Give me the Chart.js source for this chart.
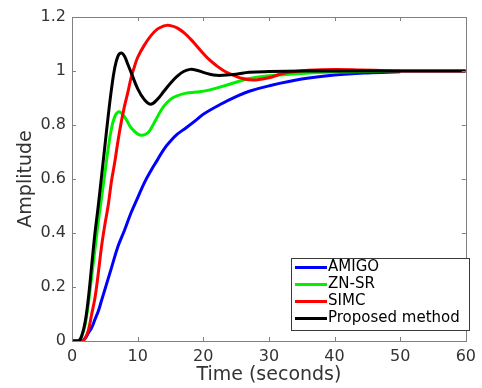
<!DOCTYPE html>
<html>
<head>
<meta charset="utf-8">
<script src="https://cdn.jsdelivr.net/npm/chart.js@4/dist/chart.umd.min.js"></script>
<style>
  html, body { margin: 0; padding: 0; background: #fff; }
  #wrap { width: 482px; height: 388px; }
</style>
</head>
<body>
<div id="wrap"><canvas id="grafica" width="482" height="388"></canvas></div>
<script>
// ejes
const xTicks = [0, 10, 20, 30, 40, 50, 60];
const yTicks = [0, 0.2, 0.4, 0.6, 0.8, 1, 1.2];
const yTickLabels = ['0', '0.2', '0.4', '0.6', '0.8', '1', '1.2'];

// AMIGO (azul)
const tAmigo = [0, 1.5, 2, 2.5, 3, 3.5, 4, 4.5, 5, 6, 7, 8, 9, 10, 11, 12, 13, 14, 15, 16, 17.4, 19, 20, 22.5, 25, 27, 30, 35, 40, 45, 50];
const yAmigo = [0, 0, 0.01, 0.03, 0.05, 0.08, 0.11, 0.15, 0.19, 0.27, 0.35, 0.41, 0.475, 0.53, 0.585, 0.63, 0.67, 0.71, 0.74, 0.765, 0.79, 0.82, 0.84, 0.875, 0.905, 0.925, 0.945, 0.97, 0.985, 0.993, 0.997];

// ZN-SR (verde)
const tZnsr = [0, 1, 1.5, 2, 2.5, 3, 3.5, 4, 4.5, 5, 5.5, 6, 6.5, 7, 7.5, 8, 8.5, 9, 10, 10.7, 11.5, 12, 13, 14, 15, 16, 17.4, 19, 21, 24, 27, 30, 35, 40, 45, 50];
const yZnsr = [0, 0, 0.02, 0.06, 0.14, 0.24, 0.34, 0.44, 0.53, 0.62, 0.71, 0.785, 0.83, 0.848, 0.845, 0.83, 0.81, 0.79, 0.767, 0.762, 0.77, 0.785, 0.83, 0.87, 0.895, 0.908, 0.918, 0.922, 0.93, 0.951, 0.972, 0.982, 0.991, 0.996, 0.998, 1.0];

// SIMC (rojo)
const tSimc = [0, 1.5, 2, 2.5, 3, 3.5, 4, 4.5, 5, 5.5, 6, 6.5, 7, 7.5, 8, 8.5, 9, 9.5, 10, 11, 12, 13, 14, 14.5, 15, 16, 17, 18, 19, 20, 21, 22, 23, 24, 25, 26, 27, 28, 30, 32, 34, 36, 40, 44, 48, 50, 60];
const ySimc = [0, 0, 0.01, 0.04, 0.1, 0.16, 0.25, 0.35, 0.43, 0.5, 0.59, 0.66, 0.74, 0.81, 0.87, 0.92, 0.975, 1.015, 1.05, 1.095, 1.13, 1.155, 1.167, 1.169, 1.168, 1.16, 1.143, 1.12, 1.093, 1.065, 1.04, 1.02, 1.003, 0.99, 0.98, 0.972, 0.968, 0.967, 0.975, 0.99, 0.998, 1.003, 1.006, 1.004, 1.001, 1.0, 1.0];

// Proposed method (negro)
const tProp = [0, 1, 1.5, 2, 2.5, 3, 3.5, 4, 4.5, 5, 5.5, 6, 6.5, 7, 7.5, 8, 8.5, 9, 10, 11, 12, 13, 14, 15, 16, 17, 18, 19, 20, 21, 22, 23, 25, 27, 30, 35, 60];
const yProp = [0, 0, 0.02, 0.07, 0.16, 0.28, 0.4, 0.5, 0.61, 0.72, 0.83, 0.93, 1.01, 1.055, 1.067, 1.055, 1.025, 0.995, 0.935, 0.895, 0.877, 0.895, 0.925, 0.955, 0.98, 0.998, 1.006, 1.003, 0.995, 0.988, 0.984, 0.984, 0.988, 0.995, 0.998, 1.0, 1.0];

const series = [
    { label: 'AMIGO', t: tAmigo, y: yAmigo, color: '#0000ff', orden: 3 },
    { label: 'ZN-SR', t: tZnsr, y: yZnsr, color: '#00f000', orden: 2 },
    { label: 'SIMC', t: tSimc, y: ySimc, color: '#ff0000', orden: 1 },
    { label: 'Proposed method', t: tProp, y: yProp, color: '#000000', orden: 0 }
];

const fuente = 'DejaVu Sans';

// marco gris con marcas hacia dentro, y la leyenda
const marco = {
    id: 'marco',
    afterDraw(chart) {
        const ctx = chart.ctx;
        const a = chart.chartArea;
        const sx = chart.scales.x, sy = chart.scales.y;
        ctx.save();
        ctx.strokeStyle = '#808080';
        ctx.lineWidth = 1;
        ctx.strokeRect(Math.round(a.left) + 0.5, Math.round(a.top) + 0.5, Math.round(a.right - a.left), Math.round(a.bottom - a.top));
        ctx.beginPath();
        xTicks.forEach(v => {
            const px = Math.round(sx.getPixelForValue(v)) + 0.5;
            ctx.moveTo(px, a.bottom); ctx.lineTo(px, a.bottom - 4);
            ctx.moveTo(px, a.top); ctx.lineTo(px, a.top + 4);
        });
        yTicks.forEach(v => {
            const py = Math.round(sy.getPixelForValue(v)) + 0.5;
            ctx.moveTo(a.left, py); ctx.lineTo(a.left + 4, py);
            ctx.moveTo(a.right, py); ctx.lineTo(a.right - 4, py);
        });
        ctx.stroke();

        const lx = 291, ly = 258, lw = 178, lh = 72;
        ctx.fillStyle = '#ffffff';
        ctx.fillRect(lx, ly, lw, lh);
        ctx.strokeStyle = '#3a3a3a';
        ctx.strokeRect(lx + 0.5, ly + 0.5, lw, lh);
        ctx.font = '15px "' + fuente + '"';
        ctx.textBaseline = 'middle';
        ctx.fillStyle = '#000';
        series.forEach((s, i) => {
            const yy = ly + 9.5 + i * 17;
            ctx.strokeStyle = s.color;
            ctx.lineWidth = 3;
            ctx.beginPath(); ctx.moveTo(lx + 4, yy); ctx.lineTo(lx + 36, yy); ctx.stroke();
            ctx.fillText(s.label, lx + 37, yy);
        });
        ctx.restore();
    }
};

new Chart(document.getElementById('grafica'), {
    type: 'line',
    data: {
        datasets: series.map(s => ({
            label: s.label,
            data: s.t.map((t, i) => ({ x: t, y: s.y[i] })),
            borderColor: s.color,
            backgroundColor: s.color,
            borderWidth: 3,
            pointRadius: 0,
            tension: 0.4,
            fill: false,
            order: s.orden
        }))
    },
    options: {
        responsive: false,
        animation: false,
        events: [],
        layout: { padding: { top: 17, right: 14, left: 0, bottom: 0 } },
        plugins: { legend: { display: false }, tooltip: { enabled: false } },
        scales: {
            x: {
                type: 'linear', min: 0, max: 60,
                afterBuildTicks: s => { s.ticks = xTicks.map(v => ({ value: v })); },
                afterFit: s => { s.height = 47; },
                grid: { display: false, drawTicks: false },
                border: { display: false },
                ticks: { color: '#333', padding: 6, font: { family: fuente, size: 16 }, maxRotation: 0 },
                title: { display: true, text: 'Time (seconds)', color: '#333', padding: { top: 0, bottom: 2 }, font: { family: fuente, size: 19 } }
            },
            y: {
                type: 'linear', min: 0, max: 1.2,
                afterBuildTicks: s => { s.ticks = yTicks.map(v => ({ value: v })); },
                afterFit: s => { s.width = 72; },
                grid: { display: false, drawTicks: false },
                border: { display: false },
                ticks: { color: '#333', padding: 6, font: { family: fuente, size: 16 }, callback: (v, i) => yTickLabels[i] },
                title: { display: true, text: 'Amplitude', color: '#333', padding: { top: 15, bottom: 0 }, font: { family: fuente, size: 19 } }
            }
        }
    },
    plugins: [marco]
});
</script>
</body>
</html>
